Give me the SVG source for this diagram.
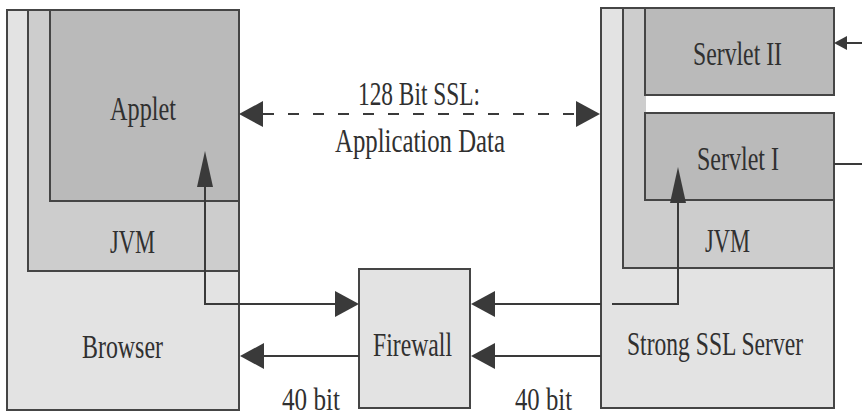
<svg xmlns="http://www.w3.org/2000/svg" width="862" height="417" viewBox="0 0 862 417">
  <style>
    .box { stroke: #454545; stroke-width: 2; }
    .outer { fill: #e3e3e3; }
    .jvm { fill: #cdcdcd; }
    .app { fill: #bababa; }
    .wire { fill: none; stroke: #3a3a3a; stroke-width: 2; }
    .dash { stroke-dasharray: 11 14; }
    text { font-family: "Liberation Serif", "Times New Roman", serif; font-size: 33px; fill: #303030; }
    .small { font-size: 31px; }
  </style>
  <defs>
    <!-- arrowheads: path ends at the arrowhead base, the head extends forward -->
    <marker id="head" markerUnits="userSpaceOnUse" markerWidth="26" markerHeight="28" refX="0" refY="13" orient="auto-start-reverse" overflow="visible">
      <path d="M0,0 L24,13 L0,26 Z" fill="#3a3a3a"/>
    </marker>
    <marker id="headTall" markerUnits="userSpaceOnUse" markerWidth="38" markerHeight="16" refX="0" refY="8" orient="auto" overflow="visible">
      <path d="M0,0 L36,8 L0,16 Z" fill="#3a3a3a"/>
    </marker>
    <marker id="headSmall" markerUnits="userSpaceOnUse" markerWidth="14" markerHeight="14" refX="0" refY="7" orient="auto" overflow="visible">
      <path d="M0,0 L13,7 L0,14 Z" fill="#3a3a3a"/>
    </marker>
  </defs>

  <rect width="862" height="417" fill="#ffffff"/>

  <!-- client side -->
  <g id="browser">
    <rect class="box outer" x="7" y="10" width="232" height="400"/>
    <text x="82" y="358" textLength="81" lengthAdjust="spacingAndGlyphs">Browser</text>
  </g>
  <g id="browser-jvm">
    <rect class="box jvm" x="28" y="10" width="211" height="261"/>
    <text x="110" y="253" textLength="45" lengthAdjust="spacingAndGlyphs">JVM</text>
  </g>
  <g id="applet">
    <rect class="box app" x="50" y="10" width="189" height="191"/>
    <text x="110" y="120" textLength="66" lengthAdjust="spacingAndGlyphs">Applet</text>
  </g>

  <!-- firewall -->
  <g id="firewall">
    <rect class="box outer" x="359" y="269" width="111" height="139"/>
    <text x="373" y="356" textLength="79" lengthAdjust="spacingAndGlyphs">Firewall</text>
  </g>

  <!-- server side -->
  <g id="server">
    <rect class="box outer" x="601" y="8" width="233" height="400"/>
    <text transform="translate(627 355) scale(0.715 1)">Strong SSL Server</text>
  </g>
  <g id="server-jvm">
    <rect class="box jvm" x="623" y="8" width="211" height="260"/>
    <rect x="646" y="95" width="200" height="18" fill="#ffffff"/>
    <text x="705" y="252" textLength="45" lengthAdjust="spacingAndGlyphs">JVM</text>
  </g>
  <g id="servlet-2">
    <rect class="box app" x="645" y="8" width="189" height="87"/>
    <text x="693" y="65" textLength="89" lengthAdjust="spacingAndGlyphs">Servlet II</text>
  </g>
  <g id="servlet-1">
    <rect class="box app" x="645" y="113" width="189" height="87"/>
    <text x="697" y="170" textLength="82" lengthAdjust="spacingAndGlyphs">Servlet I</text>
  </g>

  <!-- connectors -->
  <g id="connectors">
    <path class="wire dash" d="M263,114 H576" marker-start="url(#head)" marker-end="url(#head)"/>
    <path class="wire" d="M335,304 H205 V187" marker-end="url(#headTall)"/>
    <path class="wire" d="M205,270 V304 H335" marker-end="url(#head)"/>
    <path class="wire" d="M359,356 H264" marker-end="url(#head)"/>
    <path class="wire" d="M601,304 H495" marker-end="url(#head)"/>
    <path class="wire" d="M601,356 H495" marker-end="url(#head)"/>
    <path class="wire" d="M612,304 H678 V203" marker-end="url(#headTall)"/>
    <path class="wire" d="M862,43 H847" marker-end="url(#headSmall)"/>
    <path class="wire" d="M834,164 H862"/>
  </g>

  <!-- link labels -->
  <g id="labels">
    <text x="358" y="105" textLength="122" lengthAdjust="spacingAndGlyphs">128 Bit SSL:</text>
    <text x="335" y="152" textLength="170" lengthAdjust="spacingAndGlyphs">Application Data</text>
    <text class="small" x="282" y="410" textLength="58" lengthAdjust="spacingAndGlyphs">40 bit</text>
    <text class="small" x="515" y="410" textLength="57" lengthAdjust="spacingAndGlyphs">40 bit</text>
  </g>
</svg>
